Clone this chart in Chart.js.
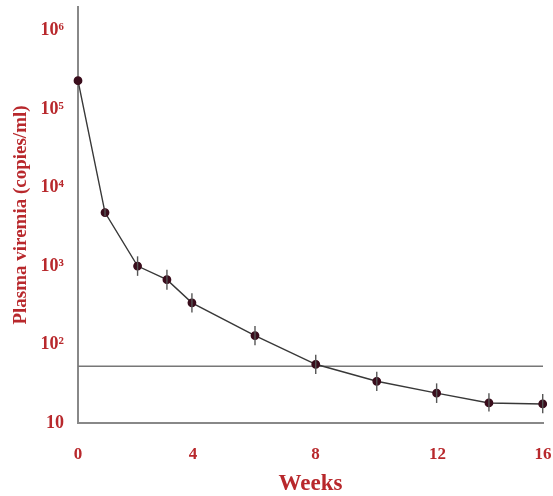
<!DOCTYPE html>
<html lang="en">
<head>
    <meta charset="UTF-8">
    <title>Plasma viremia</title>
    <script src="https://cdn.jsdelivr.net/npm/chart.js"></script>
    <style>
        html, body { margin: 0; padding: 0; background: #fff; }
        #wrap { width: 553px; height: 496px; }
    </style>
</head>
<body>
    <div id="wrap"><canvas id="viremiaChart" width="553" height="496"></canvas></div>
    <script>
        // values (week positions as drawn on the original axis)
        const weeks = [0, 0.93, 2.05, 3.06, 3.92, 6.09, 8.18, 10.28, 12.34, 14.14, 15.99];
        const viremia = [230000, 4800, 1000, 670, 340, 130, 56, 34, 24, 18, 17.5];
        const errHigh = [230000, 5400, 1330, 900, 450, 172, 74, 45, 32, 24, 23.5];
        const errLow = [230000, 4300, 750, 500, 255, 98, 42, 25.5, 18, 14, 13.3];
        const limitWeeks = [0, 16];
        const limitValue = [53, 53];
        const yTicks = [10, 100, 1000, 10000, 100000, 1000000];
        const yTickLabels = ['10', '10²', '10³', '10⁴', '10⁵', '10⁶'];
        const xTicks = [0, 3.96, 8.17, 12.37, 16];
        const xTickLabels = ['0', '4', '8', '12', '16'];

        const red = '#b8282c';
        const serif = '"Liberation Serif", "DejaVu Serif", serif';

        const errorBars = {
            id: 'errorBars',
            afterDatasetsDraw(chart) {
                const x = chart.scales.x, y = chart.scales.y, c = chart.ctx;
                c.save();
                c.strokeStyle = '#555';
                c.lineWidth = 1.4;
                weeks.forEach((w, i) => {
                    if (errHigh[i] === errLow[i]) return;
                    const px = x.getPixelForValue(w);
                    c.beginPath();
                    c.moveTo(px, y.getPixelForValue(errHigh[i]));
                    c.lineTo(px, y.getPixelForValue(errLow[i]));
                    c.stroke();
                });
                c.restore();
            }
        };

        new Chart(document.getElementById('viremiaChart'), {
            type: 'line',
            data: {
                datasets: [{
                    data: weeks.map((w, i) => ({ x: w, y: viremia[i] })),
                    borderColor: '#383838',
                    borderWidth: 1.4,
                    pointRadius: 3.7,
                    pointBackgroundColor: '#3a0d1c',
                    pointBorderColor: '#3a0d1c',
                    tension: 0,
                    clip: false
                }, {
                    data: limitWeeks.map((w, i) => ({ x: w, y: limitValue[i] })),
                    borderColor: '#777',
                    borderWidth: 1.5,
                    pointRadius: 0
                }]
            },
            options: {
                responsive: false,
                animation: false,
                layout: { padding: { top: 7, right: 10 } },
                plugins: { legend: { display: false }, tooltip: { enabled: false } },
                scales: {
                    x: {
                        type: 'linear',
                        min: 0,
                        max: 16,
                        afterBuildTicks: s => { s.ticks = xTicks.map(v => ({ value: v })); },
                        afterFit: s => { s.height = 73; s.paddingLeft = 0; s.paddingRight = 0; },
                        grid: { display: false, drawTicks: false },
                        border: { display: true, color: '#888', width: 2 },
                        ticks: {
                            padding: 21,
                            color: red,
                            maxRotation: 0,
                            font: { family: serif, size: 17, weight: 'bold' },
                            callback: v => xTickLabels[xTicks.indexOf(v)]
                        },
                        title: {
                            display: true,
                            text: 'Weeks',
                            color: red,
                            padding: 0,
                            font: { family: serif, size: 23, weight: 'bold', lineHeight: 1 }
                        }
                    },
                    y: {
                        type: 'logarithmic',
                        min: 10,
                        max: 2000000,
                        afterBuildTicks: s => { s.ticks = yTicks.map(v => ({ value: v })); },
                        afterFit: s => { s.width = 78; s.paddingTop = 0; s.paddingBottom = 0; },
                        grid: { display: false, drawTicks: false },
                        border: { display: true, color: '#888', width: 2 },
                        ticks: {
                            padding: 14,
                            color: red,
                            font: { family: serif, size: 18, weight: 'bold' },
                            callback: v => yTickLabels[yTicks.indexOf(v)]
                        },
                        title: {
                            display: true,
                            text: 'Plasma viremia (copies/ml)',
                            color: red,
                            padding: { top: 10 },
                            font: { family: serif, size: 19, weight: 'bold' }
                        }
                    }
                }
            },
            plugins: [errorBars]
        });
    </script>
</body>
</html>
